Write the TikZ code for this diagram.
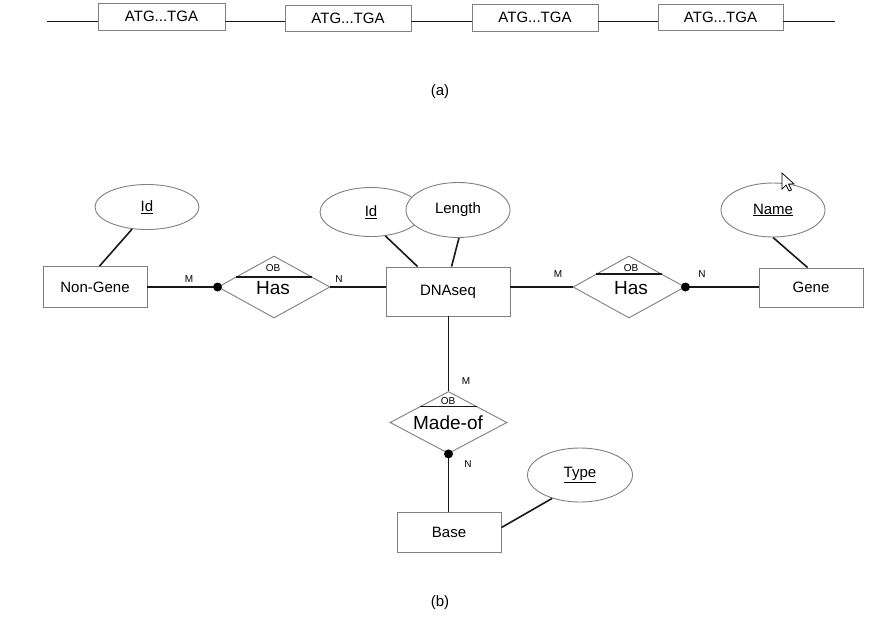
\documentclass[tikz,border=0pt]{standalone}
\usepackage{fontspec}
\setmainfont{Liberation Sans}
\usetikzlibrary{shapes.geometric,calc}
\definecolor{outline}{RGB}{128,128,128}
\begin{document}
\begin{tikzpicture}[x=1pt,y=-1pt,
  box/.style={draw=outline,line width=0.9pt,fill=white,inner sep=0pt,
    font=\fontsize{15}{17}\selectfont},
  attr/.style={ellipse,draw=outline,line width=0.9pt,fill=white,inner sep=0pt,
    font=\fontsize{15}{17}\selectfont},
  rel/.style={diamond,draw=outline,line width=0.9pt,fill=white,inner sep=0pt},
  conn/.style={line width=1.6pt,black!90},
  chord/.style={line width=1.6pt,black!90},
  card/.style={font=\fontsize{10}{12}\selectfont,inner sep=0pt},
  ob/.style={font=\fontsize{10}{11}\selectfont,inner sep=0pt},
  relname/.style={font=\fontsize{19}{21}\selectfont,inner sep=0pt},
  dot/.style={circle,fill=black,inner sep=0pt,minimum size=9pt},
  caption/.style={font=\fontsize{15}{17}\selectfont,inner sep=0pt}]
\useasboundingbox (0,0) rectangle (888,624);
\fill[white] (0,0) rectangle (888,624);

% ---- (a) gene sequence ----
\coordinate (s0) at (47,21.5);
\coordinate (s5) at (835,21.5);
\node[box,minimum width=127pt,minimum height=27pt] (g1) at (161.5,16.5) {ATG...TGA};
\node[box,minimum width=126pt,minimum height=26pt] (g2) at (348,18) {ATG...TGA};
\node[box,minimum width=126pt,minimum height=27pt] (g3) at (535,17.5) {ATG...TGA};
\node[box,minimum width=125pt,minimum height=26pt] (g4) at (720.5,17) {ATG...TGA};
\draw[conn] (s0) -- (g1.west |- s0);
\draw[conn] (g1.east |- s0) -- (g2.west |- s0);
\draw[conn] (g2.east |- s0) -- (g3.west |- s0);
\draw[conn] (g3.east |- s0) -- (g4.west |- s0);
\draw[conn] (g4.east |- s5) -- (s5);
\node[caption] (capa) at (440,92) {(a)};

% ---- (b) ER diagram ----
% entities
\node[box,minimum width=104pt,minimum height=41pt] (nongene) at (95,287) {Non-Gene};
\node[box,minimum width=124pt,minimum height=49pt] (dna) at (448,291.5) {DNAseq};
\node[box,minimum width=104pt,minimum height=39pt] (gene) at (811,287.5) {Gene};
\node[box,minimum width=104pt,minimum height=40pt] (base) at (449,532) {Base};

% attributes
\node[attr,minimum width=104pt,minimum height=45pt] (idng) at (147,207) {\underline{Id}};
\node[attr,minimum width=102pt,minimum height=49pt] (iddna) at (371,212) {\underline{Id}};
\node[attr,minimum width=104pt,minimum height=55pt] (len) at (458,210) {Length};
\node[attr,minimum width=104pt,minimum height=54pt] (name) at (773,210) {\underline{Name}};
\node[attr,minimum width=105pt,minimum height=54pt] (type) at (580,475) {\underline{Type}};

% relationships
\node[rel,minimum width=112pt,minimum height=62pt] (has1) at (274,287) {};
\node[rel,minimum width=112pt,minimum height=62pt] (has2) at (629,287) {};
\node[rel,minimum width=117pt,minimum height=62pt] (made) at (448.5,422.5) {};

% chords with the OB marker
\draw[chord] ($(has1.north)!0.68!(has1.west)$) -- ($(has1.north)!0.68!(has1.east)$);
\draw[chord] ($(has2.north)!0.58!(has2.west)$) -- ($(has2.north)!0.58!(has2.east)$);
\draw[chord] ($(made.north)!0.49!(made.west)$) -- ($(made.north)!0.49!(made.east)$);
\node[ob] (ob1) at (273,268.5) {OB};
\node[ob] (ob2) at (631,268) {OB};
\node[ob] (ob3) at (448,401) {OB};
\node[relname] (hasl1) at (273,288) {Has};
\node[relname] (hasl2) at (631,288) {Has};
\node[relname] (madel) at (448,423) {Made-of};

% attribute links
\draw[conn] (idng.236) -- ($(nongene.north west)+(57,0)$);
\draw[conn] (iddna.301) -- ($(dna.north west)+(32,0)$);
\draw[conn] (len.272) -- ($(dna.north west)+(66,0)$);
\draw[conn] (name.south) -- ($(gene.north west)+(49,0)$);
\draw[conn] (type.220) -- ($(base.north east)+(0,16)$);

% relationship links
\draw[conn] (nongene.east) -- (has1.west);
\draw[conn] (has1.east) -- (dna.west |- has1.east);
\draw[conn] (dna.east |- has2.west) -- (has2.west);
\draw[conn] (has2.east) -- (gene.west |- has2.east);
\draw[conn] (dna.south -| made.north) -- (made.north);
\draw[conn] (made.south) -- (base.north -| made.south);

% total participation dots
\node[dot] (d1) at (has1.west) {};
\node[dot] (d2) at (has2.east) {};
\node[dot] (d3) at (made.south) {};

% cardinalities
\node[card] (c1) at (189,279) {M};
\node[card] (c2) at (339,279) {N};
\node[card] (c3) at (558,274) {M};
\node[card] (c4) at (702,274) {N};
\node[card] (c5) at (466,381) {M};
\node[card] (c6) at (468,464) {N};

\node[caption] (capb) at (440,603) {(b)};

% mouse pointer
\draw[black,line width=0.7pt,fill=white,line join=miter]
  (782,173) -- (782,189) -- (786,185) -- (789,191) -- (791.5,190)
  -- (788.5,184) -- (794,184) -- cycle;
\end{tikzpicture}
\end{document}
